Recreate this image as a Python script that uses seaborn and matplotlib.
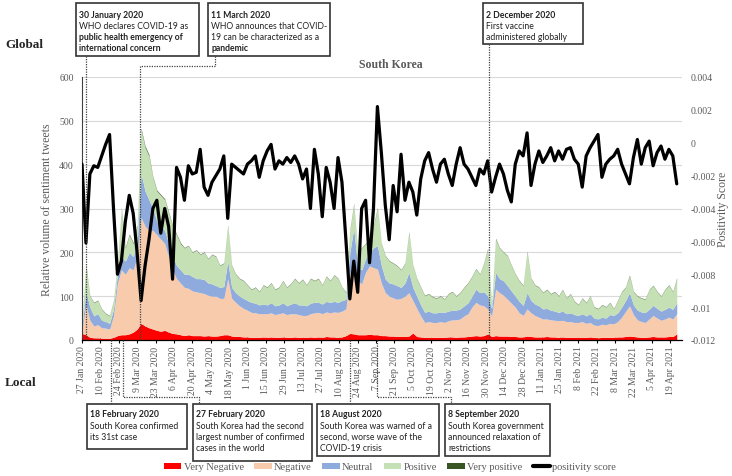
import numpy as np
import pandas as pd
import matplotlib.pyplot as plt
import matplotlib.dates as mdates
from matplotlib.patches import Rectangle, Patch
from matplotlib.lines import Line2D
import seaborn as sns

# values, one point every 3 days from 27 Jan 2020
start = "2020-01-27"

very_negative = [
    15, 12, 6, 5, 5, 4, 4, 4, 6, 10,
    12, 12, 14, 18, 25, 38, 32, 28, 25, 22,
    20, 22, 18, 15, 14, 12, 10, 12, 10, 10,
    10, 9, 10, 9, 9, 10, 12, 12, 9, 8,
    8, 7, 7, 6, 6, 6, 7, 6, 7, 6,
    6, 7, 6, 6, 7, 6, 6, 6, 7, 6,
    7, 6, 8, 7, 7, 6, 7, 10, 15, 14,
    12, 12, 12, 13, 12, 12, 10, 10, 9, 9,
    8, 8, 8, 9, 16, 8, 7, 6, 6, 6,
    6, 6, 6, 7, 7, 6, 7, 7, 8, 9,
    10, 9, 10, 14, 8, 10, 9, 9, 9, 8,
    8, 7, 7, 9, 8, 7, 7, 7, 8, 7,
    7, 6, 7, 6, 6, 6, 6, 6, 6, 7,
    6, 5, 6, 6, 6, 6, 7, 7, 8, 9,
    8, 7, 6, 6, 7, 8, 7, 7, 7, 8,
    8, 14,
]

# upper edge of each stacked layer
negative_top = [
    25, 80, 45, 32, 35, 28, 27, 25, 55, 130,
    160, 150, 165, 160, 190, 280, 260, 250, 250, 240,
    230, 220, 190, 160, 140, 130, 120, 118, 112, 110,
    108, 106, 102, 100, 100, 95, 95, 140, 95, 86,
    78, 72, 68, 63, 62, 60, 60, 60, 62, 58,
    60, 62, 58, 60, 60, 58, 56, 56, 60, 62,
    63, 60, 64, 62, 64, 63, 66, 71, 150, 185,
    135, 128, 155, 169, 165, 162, 130, 108, 100, 96,
    93, 95, 100, 108, 90, 72, 55, 40, 42, 40,
    40, 42, 40, 44, 46, 46, 48, 55, 60, 75,
    86, 80, 78, 71, 55, 116, 108, 102, 93, 84,
    75, 62, 56, 71, 62, 56, 52, 48, 48, 46,
    45, 44, 45, 42, 42, 40, 40, 42, 38, 40,
    34, 33, 36, 35, 38, 37, 42, 52, 65, 78,
    58, 46, 42, 40, 48, 56, 50, 45, 48, 52,
    48, 60,
]

neutral_top = [
    30, 110, 75, 55, 60, 45, 42, 38, 70, 150,
    190, 180, 200, 190, 220, 380, 340, 320, 300, 270,
    260, 250, 220, 190, 170, 160, 150, 150, 145, 140,
    140, 138, 130, 128, 124, 120, 122, 180, 120, 108,
    100, 95, 90, 86, 84, 80, 82, 80, 85, 78,
    80, 85, 78, 82, 85, 80, 80, 78, 84, 86,
    86, 82, 88, 86, 88, 86, 90, 93, 200, 255,
    165, 160, 185, 200, 210, 215, 170, 139, 130, 128,
    124, 120, 130, 154, 120, 100, 80, 63, 66, 62,
    62, 64, 63, 66, 68, 68, 71, 78, 85, 100,
    116, 108, 110, 101, 72, 154, 140, 135, 124, 112,
    100, 88, 79, 108, 90, 82, 78, 71, 72, 68,
    66, 63, 66, 60, 62, 58, 56, 60, 55, 60,
    50, 48, 52, 50, 58, 56, 62, 75, 90, 108,
    80, 68, 64, 63, 70, 79, 72, 66, 70, 75,
    70, 85,
]

positive_top = [
    40, 170, 100, 85, 90, 70, 60, 55, 90, 170,
    300, 210, 240, 220, 260, 480, 440, 420, 370, 340,
    330, 320, 290, 260, 240, 220, 210, 215, 200, 205,
    195, 200, 185, 195, 190, 170, 175, 260, 170, 150,
    140, 135, 125, 115, 120, 110, 125, 120, 130, 115,
    120, 135, 120, 128, 140, 130, 138, 125, 140, 135,
    140, 125, 145, 135, 148, 140, 120, 108, 250, 310,
    200, 210, 220, 230, 260, 300, 220, 192, 180, 175,
    169, 160, 175, 245, 170, 140, 120, 101, 105, 98,
    95, 100, 93, 105, 110, 100, 108, 120, 130, 145,
    162, 150, 175, 207, 80, 230, 210, 200, 192, 170,
    150, 135, 124, 200, 140, 125, 120, 108, 115, 105,
    110, 100, 115, 95, 105, 88, 80, 95, 85, 100,
    75, 71, 80, 75, 85, 71, 90, 110, 120, 146,
    110, 100, 95, 93, 115, 124, 110, 100, 115, 125,
    110, 140,
]

very_positive = [
    1, 2, 1, 1, 1, 1, 1, 1, 1, 2,
    2, 2, 2, 2, 2, 3, 3, 3, 2, 2,
    2, 2, 2, 2, 2, 2, 1, 1, 1, 1,
    1, 1, 1, 1, 1, 1, 1, 2, 1, 1,
    1, 1, 1, 1, 1, 1, 1, 1, 1, 1,
    1, 1, 1, 1, 1, 1, 1, 1, 1, 1,
    1, 1, 1, 1, 1, 1, 1, 1, 2, 2,
    1, 1, 1, 1, 2, 2, 1, 1, 1, 1,
    1, 1, 1, 2, 1, 1, 1, 1, 1, 1,
    1, 1, 1, 1, 1, 1, 1, 1, 1, 1,
    1, 1, 1, 2, 1, 2, 1, 1, 1, 1,
    1, 1, 1, 2, 1, 1, 1, 1, 1, 1,
    1, 1, 1, 1, 1, 1, 1, 1, 1, 1,
    1, 1, 1, 1, 1, 1, 1, 1, 1, 2,
    1, 1, 1, 1, 1, 1, 1, 1, 1, 1,
    1, 2,
]

positivity = [
    -0.0013, -0.0061, -0.0019, -0.0014, -0.0015, -0.0008, -0.0001, 0.0005, -0.0040, -0.0080,
    -0.0072, -0.0048, -0.0032, -0.0043, -0.0067, -0.0096, -0.0075, -0.0059, -0.0040, -0.0035,
    -0.0055, -0.0040, -0.0051, -0.0083, -0.0015, -0.0021, -0.0035, -0.0014, -0.0019, -0.0018,
    -0.0004, -0.0027, -0.0032, -0.0024, -0.0020, -0.0016, -0.0008, -0.0046, -0.0013, -0.0015,
    -0.0017, -0.0019, -0.0013, -0.0011, -0.0008, -0.0021, -0.0011, -0.0005, -0.0001, -0.0016,
    -0.0011, -0.0013, -0.0009, -0.0012, -0.0008, -0.0013, -0.0022, -0.0016, -0.0040, -0.0004,
    -0.0019, -0.0045, -0.0015, -0.0024, -0.0040, -0.0009, -0.0024, -0.0059, -0.0095, -0.0072,
    -0.0091, -0.0040, -0.0035, -0.0073, -0.0040, 0.0022, -0.0006, -0.0038, -0.0059, -0.0026,
    -0.0042, -0.0007, -0.0035, -0.0024, -0.0030, -0.0044, -0.0022, -0.0011, -0.0006, -0.0016,
    -0.0024, -0.0013, -0.0010, -0.0019, -0.0026, -0.0013, -0.0003, -0.0013, -0.0016, -0.0021,
    -0.0026, -0.0016, -0.0019, -0.0011, -0.0030, -0.0021, -0.0013, -0.0019, -0.0029, -0.0036,
    -0.0013, -0.0005, -0.0008, 0.0006, -0.0026, -0.0013, -0.0005, -0.0012, -0.0008, -0.0003,
    -0.0011, -0.0005, -0.0010, -0.0004, -0.0003, -0.0010, -0.0013, -0.0027, -0.0008, -0.0003,
    0.0001, 0.0005, -0.0021, -0.0013, -0.0010, -0.0008, -0.0004, -0.0013, -0.0019, -0.0025,
    -0.0009, 0.0002, -0.0013, -0.0003, 0.0001, -0.0014, -0.0006, -0.0002, -0.0010, -0.0004,
    -0.0008, -0.0025,
]

layer_names = ["Very Negative", "Negative", "Neutral", "Positive", "Very positive"]
layer_colors = ["#ff0000", "#f8cbad", "#8faadc", "#c5e0b4", "#375623"]

top_events = [
    ("2020-01-30", ["30 January 2020", "WHO declares COVID-19 as",
                    "public health emergency of", "international concern"], [1, 0, 1, 1]),
    ("2020-03-11", ["11 March 2020", "WHO announces that COVID-",
                    "19 can be characterized as a", "pandemic"], [1, 0, 0, 1]),
    ("2020-12-02", ["2 December 2020", "First vaccine", "administered globally"], [1, 0, 0]),
]
bottom_events = [
    ("2020-02-18", ["18 February 2020", "South Korea confirmed", "its 31st case"], [1, 0, 0]),
    ("2020-02-27", ["27 February 2020", "South Korea had the second",
                    "largest number of confirmed", "cases in the world"], [1, 0, 0, 0]),
    ("2020-08-18", ["18 August 2020", "South Korea was warned of a",
                    "second, worse wave of the", "COVID-19 crisis"], [1, 0, 0, 0]),
    ("2020-09-08", ["8 September 2020", "South Korea government",
                    "announced relaxation of", "restrictions"], [1, 0, 0, 0]),
]

dates = pd.date_range(start, periods=len(positivity), freq="3D")
df = pd.DataFrame({"date": dates, "positivity": positivity})
vp_top = np.array(positive_top) + np.array(very_positive)

sns.set_theme(style="white")
plt.rcParams["font.family"] = ["Liberation Serif", "DejaVu Serif"]
grey = "#595959"

W, H = 732, 477
fig = plt.figure(figsize=(W / 100, H / 100), dpi=100)
ax = fig.add_axes([82 / W, 1 - 341 / H, 600 / W, 263 / H])

# stacked sentiment areas
edges = [np.zeros(len(dates)), very_negative, negative_top, neutral_top, positive_top, vp_top]
for i, c in enumerate(layer_colors):
    ax.fill_between(dates, edges[i], edges[i + 1], color=c, lw=0)

ax.set_ylim(0, 600)
ax.set_yticks(range(0, 700, 100))
ax.yaxis.grid(True, color="#d9d9d9", lw=0.8)
ax.set_axisbelow(True)
ax.set_ylabel("Relative volume of sentiment tweets", fontsize=8.5, color=grey, labelpad=4)
ax.tick_params(axis="y", length=0, labelsize=7, labelcolor=grey, pad=6)

ax2 = ax.twinx()
sns.lineplot(x="date", y="positivity", data=df, ax=ax2, color="black", lw=2.3)
ax2.set_ylim(-0.012, 0.004)
rt = np.round(np.arange(-0.012, 0.0041, 0.002), 3)
ax2.set_yticks(rt)
ax2.set_yticklabels([f"{v:g}" for v in rt])
ax2.tick_params(axis="y", length=0, labelsize=7, labelcolor=grey, pad=6)
ax2.set_ylabel("Positivity Score", fontsize=8.5, color=grey, labelpad=1)
ax2.set_xlabel("")

ax.set_xlim(pd.Timestamp("2020-01-27"), pd.Timestamp("2021-04-28"))
ticks = pd.date_range("2020-01-27", "2021-04-19", freq="14D")
ax.set_xticks(ticks)
ax.set_xticklabels([f"{d.day} {d.strftime('%b %Y')}" for d in ticks], rotation=90)
ax.tick_params(axis="x", direction="inout", length=4, width=0.8, color="black",
               labelsize=7, labelcolor=grey, pad=2, bottom=True)
ax.set_xlabel("")

for s in ["top", "right"]:
    ax.spines[s].set_visible(False)
for s in ax2.spines.values():
    s.set_visible(False)
ax.spines["left"].set_color("#404040")
ax.spines["left"].set_linewidth(0.8)
ax.spines["bottom"].set_color("black")
ax.spines["bottom"].set_linewidth(0.9)

fig.text(391 / W, 1 - 65 / H, "South Korea", ha="center", va="center",
         fontsize=8.5, fontweight="bold", color=grey)
fig.text(5 / W, 1 - 45 / H, "Global", ha="left", va="center", fontsize=9.5, fontweight="bold")
fig.text(5 / W, 1 - 383 / H, "Local", ha="left", va="center", fontsize=9.5, fontweight="bold")


def event_x(day):
    return ax.transData.transform((mdates.date2num(pd.Timestamp(day)), 0))[0]


def dotted(points):
    xs = [p[0] / W for p in points]
    ys = [1 - p[1] / H for p in points]
    fig.add_artist(Line2D(xs, ys, transform=fig.transFigure, color="#404040",
                          lw=0.9, ls=(0, (1, 1))))


def event_box(x0, y0, x1, y1, lines, bold, first=11):
    fig.add_artist(Rectangle((x0 / W, 1 - y1 / H), (x1 - x0) / W, (y1 - y0) / H,
                             transform=fig.transFigure, facecolor="white",
                             edgecolor="#333333", lw=1.2))
    for k, (t, b) in enumerate(zip(lines, bold)):
        fig.text((x0 + 3) / W, 1 - (y0 + first + 11.3 * k) / H, t, ha="left", va="center",
                 fontsize=6.2, family=["Lato", "DejaVu Sans"],
                 fontweight="bold" if b else "normal", color="#222222")


fig.canvas.draw()

# top (global) events
top_boxes = [(76, 4, 199, 57), (208, 4, 330, 57), (483, 4, 583, 45)]
for (day, lines, bold), box in zip(top_events, top_boxes):
    ex = event_x(day)
    if day == "2020-03-11":
        dotted([(215, box[3]), (215, 67), (ex, 67), (ex, 341)])
    else:
        dotted([(ex, box[3]), (ex, 341)])
    event_box(*box, lines, bold)

# bottom (local) events
bottom_boxes = [(87, 405, 187, 450), (193, 405, 312, 462), (317, 405, 439, 457), (445, 405, 550, 457)]
for (day, lines, bold), box in zip(bottom_events, bottom_boxes):
    ex = event_x(day)
    if day in ("2020-02-27", "2020-09-08"):
        jx = box[0] + 6
        dotted([(ex, 341), (ex, 398), (jx, 398), (jx, box[1])])
    else:
        dotted([(ex, 341), (ex, box[1])])
    event_box(*box, lines, bold, first=10)

handles = [Patch(facecolor=c, edgecolor="none") for c in layer_colors]
handles.append(Line2D([0], [0], color="black", lw=3))
labels = layer_names + ["positivity score"]
fig.legend(handles, labels, loc="center", bbox_to_anchor=(390 / W, 1 - 468 / H), ncol=6,
           frameon=False, fontsize=7.5, handlelength=1.7, handleheight=0.6,
           handletextpad=0.2, columnspacing=1.0, labelcolor=grey)

fig.savefig("out.png", dpi=100)
